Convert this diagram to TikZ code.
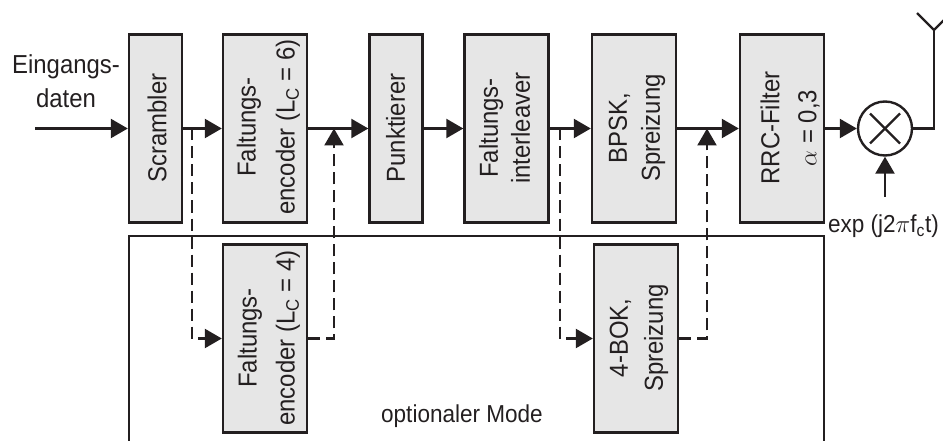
\documentclass[tikz,border=0pt]{standalone}
\usepackage{fontspec}
\setmainfont{Liberation Sans}[FakeStretch=0.92]
\usetikzlibrary{arrows.meta}
\definecolor{boxgray}{HTML}{E6E6E6}
\definecolor{ink}{HTML}{231F20}

\begin{document}
\begin{tikzpicture}[x=1pt,y=-1pt,
  color=ink, line width=2.4pt,
  font=\fontsize{26}{34}\selectfont,
  blk/.style={draw, fill=boxgray, minimum width=84, minimum height=188, inner sep=0},
  narrow/.style={minimum width=53},
  lbl/.style={rotate=90, align=center, inner sep=0},
  arr/.style={-{Triangle[length=17pt,width=19pt]}},
  dsh/.style={dash pattern=on 12pt off 6pt},
]
\clip (0,0) rectangle (943,441);

% processing chain (upper row)
\node[blk, narrow] (scr)  at (155.5,128.5) {};
\node[blk]         (fe1)  at (265,128.5) {};
\node[blk, narrow] (pkt)  at (396,128.5) {};
\node[blk]         (fil)  at (506.5,128.5) {};
\node[blk]         (bpsk) at (634,128.5) {};
\node[blk]         (rrc)  at (782,128.5) {};

% optional branch (lower row)
\node[blk] (fe2) at (265,338.5) {};
\node[blk] (bok) at (636,338.5) {};

% box labels, written bottom to top
\node[lbl] (tscr)  at (157,128) {Scrambler};
\node[lbl, font=\fontsize{26}{39}\selectfont] (tfe1) at (268.5,127) {Faltungs-\\encoder (L\textsubscript{C} = 6)};
\node[lbl] (tpkt)  at (395.5,128) {Punktierer};
\node[lbl, font=\fontsize{26}{32}\selectfont] (tfil) at (504.5,128) {Faltungs-\\interleaver};
\node[lbl, font=\fontsize{26}{33}\selectfont] (tbpsk) at (637,128) {BPSK,\\Spreizung};
\node[lbl, font=\fontsize{26}{37}\selectfont] (trrc) at (790,128) {RRC-Filter\\$\alpha$ = 0,3};
\node[lbl, font=\fontsize{26}{38}\selectfont] (tfe2) at (269,338) {Faltungs-\\encoder (L\textsubscript{C} = 4)};
\node[lbl, font=\fontsize{26}{35}\selectfont] (tbok) at (639,338) {4-BOK,\\Spreizung};

% frame of the optional mode
\draw[line width=2pt] (129,445) -- (129,236) -- (824,236) -- (824,445);
\node[anchor=base, inner sep=0, font=\fontsize{24.5}{30}\selectfont] (opt) at (462,422) {optionaler Mode};

% input
\node[align=center, inner sep=0] (inp) at (66,81) {Eingangs-\\daten};
\coordinate (src) at (35,128.5);

% mixer
\node[circle, draw, minimum size=54, inner sep=0] (mix) at (885,128.5) {};
\draw (mix.center) +(-15,-15) -- +(15,15);
\draw (mix.center) +(-15,15) -- +(15,-15);
\coordinate (lo) at (885,197);
\node[anchor=base east, inner sep=0, font=\fontsize{24.5}{30}\selectfont] (tlo) at (940,233) {exp (j2$\pi$f\textsubscript{c}t)};

% antenna
\coordinate (feed) at (934,128.5);
\coordinate (mast) at (934,30);
\draw (mix.east) -- (feed) -- (mast);
\draw (917,13) -- (mast) -- (951,13);

% main signal path
\draw[arr] (src) -- (scr.west);
\draw[arr] (scr.east) -- (fe1.west);
\draw[arr] (fe1.east) -- (pkt.west);
\draw[arr] (pkt.east) -- (fil.west);
\draw[arr] (fil.east) -- (bpsk.west);
\draw[arr] (bpsk.east) -- (rrc.west);
\draw[arr] (rrc.east) -- (mix.west);
\draw[arr] (lo) -- (mix.south);

% optional detours
\coordinate (j1) at (192,128.5);
\coordinate (j2) at (334,128.5);
\coordinate (j3) at (560,128.5);
\coordinate (j4) at (707,128.5);
\draw[dsh, arr] (j1) |- (fe2.west);
\draw[dsh, arr] (fe2.east) -| (j2);
\draw[dsh, arr] (j3) |- (bok.west);
\draw[dsh, arr] (bok.east) -| (j4);
\end{tikzpicture}
\end{document}
